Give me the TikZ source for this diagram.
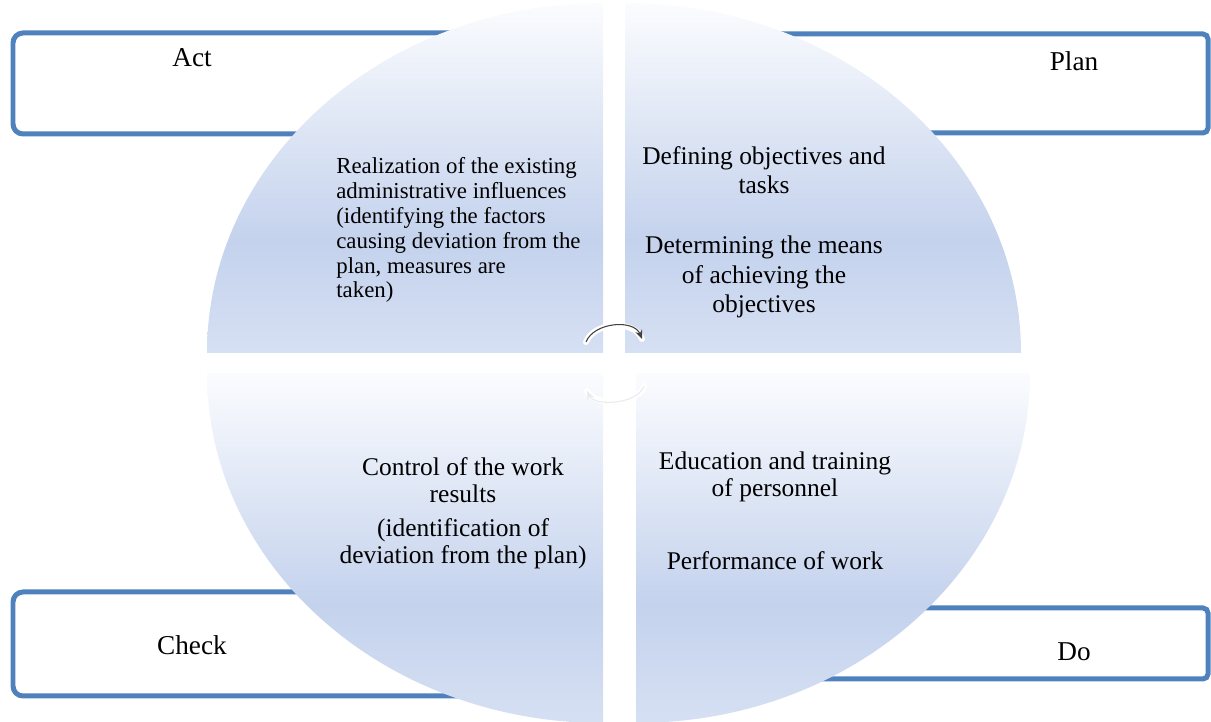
\documentclass[tikz,border=0pt]{standalone}
\usepackage{fontspec}
\setmainfont{Liberation Serif}
\usetikzlibrary{arrows.meta, positioning}

\definecolor{pdcaLine}{RGB}{79,129,189}
\definecolor{pdcaDeep}{RGB}{196,210,237}
\definecolor{pdcaLow}{RGB}{214,224,243}
\definecolor{pdcaPale}{RGB}{251,252,254}

% quarter fills: pale on the outside, deep near the middle
\pgfdeclareverticalshading{quadupper}{100bp}{color(0bp)=(pdcaLow); color(25bp)=(pdcaLow); color(41bp)=(pdcaDeep); color(75bp)=(pdcaPale); color(100bp)=(pdcaPale)}
\pgfdeclareverticalshading{quadlower}{100bp}{color(0bp)=(pdcaLow); color(25bp)=(pdcaLow); color(42bp)=(pdcaDeep); color(75bp)=(pdcaPale); color(100bp)=(pdcaPale)}

\begin{document}
\begin{tikzpicture}[
    x=0.02cm, y=-0.02cm,
    cornerbox/.style={draw=pdcaLine, line width=0.1cm, rounded corners=0.2cm},
    smallbox/.style={cornerbox, rounded corners=0.1cm},
    upper/.style={shading=quadupper},
    lower/.style={shading=quadlower},
    label_node/.style={font=\fontsize{15.5}{18}\selectfont, inner sep=0pt},
    quad_text/.style={font=\fontsize{14.5}{15.3}\selectfont, align=center, inner sep=0pt},
    wide_text/.style={font=\fontsize{14.5}{16.7}\selectfont, align=center, inner sep=0pt},
    act_text/.style={font=\fontsize{13}{14.2}\selectfont, align=left, inner sep=0pt},
    cyclehalo/.style={draw=white, line width=0.12cm, line cap=round},
    cyclearrow/.style={draw=black!75, line width=0.6pt, -{Stealth[length=5pt, width=4pt]}}
]
    \useasboundingbox (0,0) rectangle (1211,722);

    % corner frames, partly hidden by the quarters
    \draw[cornerbox] (13,33) rectangle (560,134);
    \draw[smallbox] (650,34) rectangle (1208,133);
    \draw[cornerbox] (13,592) rectangle (560,696);
    \draw[smallbox] (650,608) rectangle (1208,679);

    \node[label_node] (act) at (192,58) {Act};
    \node[label_node] (plan) at (1074,61) {Plan};
    \node[label_node] (check) at (192,645) {Check};
    \node[label_node] (do) at (1074,652) {Do};

    % the four quarters
    \path[upper] (603,353) -- (207,353) arc[start angle=180, end angle=270, x radius=396, y radius=350] -- cycle;
    \path[upper] (625,353) -- (1021,353) arc[start angle=0, end angle=-90, x radius=396, y radius=350] -- cycle;
    \path[lower] (603,373) -- (207,373) arc[start angle=180, end angle=90, x radius=396, y radius=350] -- cycle;
    \path[lower] (636,373) -- (1030,373) arc[start angle=0, end angle=90, x radius=394, y radius=350] -- cycle;

    \node[act_text, anchor=west] (actTxt) at (336,230) {Realization of the existing\\administrative influences\\(identifying the factors\\causing deviation from the\\plan, measures are\\taken)};

    \node[wide_text] (planTxtA) at (764,170) {Defining objectives and\\tasks};
    \node[wide_text] (planTxtB) at (764,277) {Determining the means\\of achieving the\\objectives};

    \node[quad_text] (checkTxtA) at (463,480) {Control of the work\\results};
    \node[quad_text] (checkTxtB) at (463,544) {(identification of\\deviation from the plan)};

    \node[quad_text] (doTxtA) at (775,477) {Education and training\\of personnel};
    \node[quad_text] (doTxtB) at (775,561) {Performance of work};

    % cycle arrows in the middle
    \coordinate (cycTL) at (586,342);
    \coordinate (cycTR) at (642,339);
    \coordinate (cycBR) at (644,386);
    \coordinate (cycBL) at (587,391);
    \draw[cyclehalo] (cycTL) .. controls +(8,-20) and +(-8,-20) .. (cycTR);
    \draw[cyclearrow] (cycTL) .. controls +(8,-20) and +(-8,-20) .. (cycTR);
    \draw[cyclehalo] (cycBR) .. controls +(-6,18) and +(8,16) .. (cycBL);
    \draw[cyclearrow, draw=black!8] (cycBR) .. controls +(-6,18) and +(8,16) .. (cycBL);
\end{tikzpicture}
\end{document}
